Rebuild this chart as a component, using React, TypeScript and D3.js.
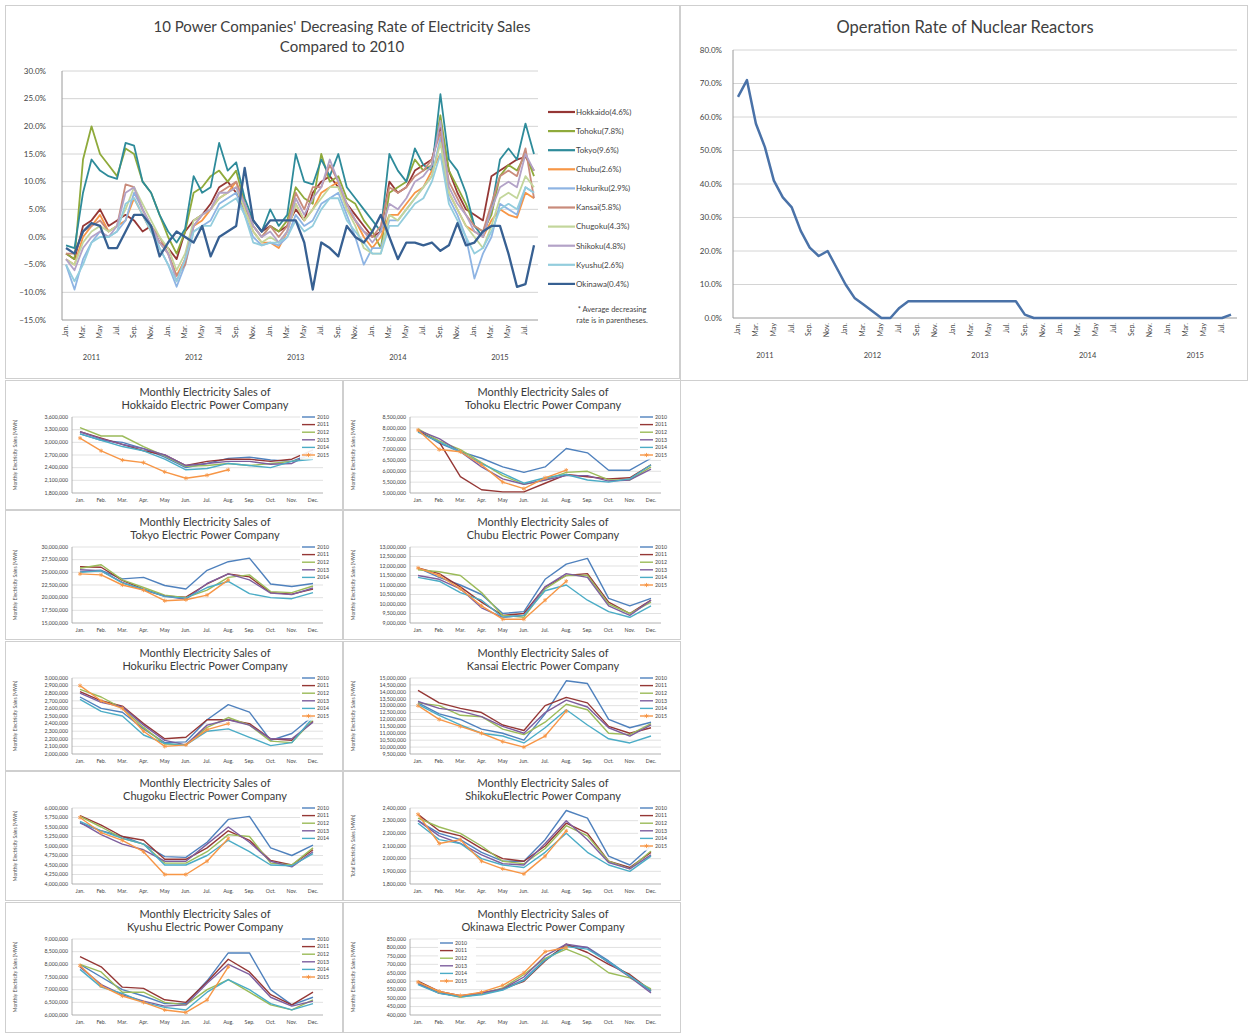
import React from 'react';
import * as d3 from 'd3';

const FONT = 'Lato, "Open Sans", "Liberation Sans", sans-serif';

// ---------- shared categories ----------
const monthShort = ['Jan.', 'Feb.', 'Mar.', 'Apr.', 'May', 'Jun.', 'Jul.', 'Aug.', 'Sep.', 'Oct.', 'Nov.', 'Dec.'];
const rateYears = ['2011', '2012', '2013', '2014', '2015'];
const rateMonths = rateYears.flatMap(y => monthShort.map(m => `${m} ${y}`)).slice(0, 56);

// ---------- decreasing rate vs 2010 (%) ----------
const rateTicks = [-15, -10, -5, 0, 5, 10, 15, 20, 25, 30];
const companyNames = ['Hokkaido(4.6%)', 'Tohoku(7.8%)', 'Tokyo(9.6%)', 'Chubu(2.6%)', 'Hokuriku(2.9%)', 'Kansai(5.8%)', 'Chugoku(4.3%)', 'Shikoku(4.8%)', 'Kyushu(2.6%)', 'Okinawa(0.4%)'];
const companyColors = ['#953735', '#8FAA3B', '#2E8B9A', '#F79646', '#8EB4E3', '#C98B7B', '#C3D69B', '#B3A2C7', '#93CDDD', '#376092'];

const hokkaidoRate = [
  -3, -4, 2, 3, 5, 2, 3, 4, 3, 1, 2, -1,
  -2, -4, 1, 3, 4, 6, 9, 10, 8, 5, 3, 1,
  2, 1, 2, 5, 3, 8, 10, 11, 9, 6, 4, 2,
  0, 1, 10, 8, 9, 12, 13, 14, 20, 12, 8, 5,
  4, 3, 11, 12, 13, 14, 14.5, 12,
];
const tohokuRate = [
  -3, -4, 14, 20, 15, 13, 11, 16, 15, 10, 8, 4,
  0, -3, 1, 8, 9, 11, 12, 10, 12, 6, 2, 0,
  2, 1, 3, 9, 7, 6, 15, 10, 11, 7, 6, 3,
  1, -2, 8, 9, 10, 14, 12, 13, 22, 12, 9, 6,
  2, 1, 4, 11, 13, 12, 15, 11,
];
const tokyoRate = [
  -1.5, -2, 8, 14, 12, 11, 10.5, 17, 16.5, 10, 8, 4,
  1, -1, 1.5, 11, 8, 9, 17, 12, 13.5, 7, 3, 1,
  5, 2, 4, 15, 10, 9.5, 14, 11, 15, 9, 7, 5,
  3, 1, 15, 12, 10, 16, 13, 12, 25.8, 14, 12, 8,
  2, 0, 5, 14, 16, 14, 20.5, 15,
];
const chubuRate = [
  -4, -5, 0, 2, 4, 1, 2, 3, 7, 4, 1, -1,
  -3, -7, -4, 2, 3, 5, 7, 8, 10, 5, 1, -1,
  -1, -2, 1, 6, 3, 5, 8, 9, 10, 5, 3, 0,
  -2, 0, 4, 4, 6, 8, 9, 12, 15, 8, 5, 2,
  1, 0, 3, 5, 4, 3.5, 8, 7,
];
const hokurikuRate = [
  -5, -9.5, -4, -1, 1, 0, 1, 3, 8, 5, 2, -2,
  -5, -9, -5, 1, 2, 3, 6, 7, 8, 4, 0, -1.5,
  -1, -1.5, 0, 4, 2, 3, 6, 7, 8, 4, 0, -5,
  -2, -2, 3, 3, 5, 7, 9, 11, 18, 7, 4, 0,
  -7.5, -3, 0, 6, 5, 4, 9, 8,
];
const kansaiRate = [
  -3, -3, 1, 2, 3, 1, 2, 9.5, 9, 5, 2, 0,
  -3, -7, -5, 2, 4, 5, 8, 9, 10, 6, 2, 0,
  2, 0, 2, 8, 5, 9, 9, 13, 10, 6, 3, 1,
  0, 2, 9, 8, 9, 11, 12, 14, 19, 10, 7, 4,
  2, 1, 6, 11, 12, 11, 16, 7,
];
const chugokuRate = [
  -4, -5, -1, 1, 2, 1, 2, 5, 9, 6, 3, 0,
  -2, -6, -3, 3, 4, 5, 7, 8, 9, 5, 1, -1,
  0, -1, 1, 6, 3, 5, 7, 9, 9, 5, 2, -2,
  -3, -3, 4, 3, 5, 7, 9, 11, 17, 8, 5, 2,
  0, -2, 2, 7, 8, 7, 11, 9,
];
const shikokuRate = [
  -4, -6, -2, 0, 1, 0, 2, 8, 9, 5, 2, -1,
  -3, -8, -4, 2, 4, 5, 8, 8, 9, 6, 2, 0,
  1, -1, 1, 7, 4, 7, 9, 14, 10, 6, 3, 1,
  -1, 1, 6, 5, 7, 10, 11, 13, 21, 9, 6, 4,
  1, 0, 5, 9, 10, 9, 15, 12,
];
const kyushuRate = [
  -5, -8, -5, -1, 0, 0, 1, 6, 7, 4, 1, -2,
  -5, -8, -4, 1, 2, 2, 5, 6, 7, 4, -1, -1.5,
  -1, -1, 0, 3, 1, 2, 5, 7, 7, 3, 1, -1,
  -3, -3, 2, 2, 4, 6, 7, 10, 15, 6, 3, 0,
  -3, -2, 1, 5, 6, 5, 9, 8,
];
const okinawaRate = [
  -2, -3, 1, 2.5, 2, -2, -2, 1, 4, 4, 2, -3.5,
  -1, 1, 0, -1, 2, -3.5, 0, 1, 2, 12.5, 3, 1,
  3, 3, 3, 3, -1, -9.5, -1, -2, -3.5, 2, 0, -1,
  1, 4, 0, -4, -1, -1, -1.5, -1, -2.5, -1.5, 2.5, -1.5,
  -1, 1, 2, 2, -3, -9, -8.5, -1.5,
];
const rateSeries = [hokkaidoRate, tohokuRate, tokyoRate, chubuRate, hokurikuRate, kansaiRate, chugokuRate, shikokuRate, kyushuRate, okinawaRate];

// ---------- nuclear operation rate (%) ----------
const nuclearTicks = [0, 10, 20, 30, 40, 50, 60, 70, 80];
const nuclearRate = [
  66, 71, 58, 51, 41, 36, 33, 26, 21, 18.5, 20, 15,
  10, 6, 4, 2, 0, 0, 3, 5, 5, 5, 5, 5,
  5, 5, 5, 5, 5, 5, 5, 5, 1, 0, 0, 0,
  0, 0, 0, 0, 0, 0, 0, 0, 0, 0, 0, 0,
  0, 0, 0, 0, 0, 0, 0, 1,
];

// ---------- monthly sales (million MWh), rows = 2010..2015 ----------
const salesYears = ['2010', '2011', '2012', '2013', '2014', '2015'];
const yearColors = ['#4F81BD', '#953735', '#9BBB59', '#7D5E9E', '#4BACC6', '#F79646'];

const hokkaidoTicks = [1.8, 2.1, 2.4, 2.7, 3.0, 3.3, 3.6];
const hokkaidoSales = [
  [3.20, 3.05, 3.00, 2.85, 2.65, 2.40, 2.50, 2.62, 2.65, 2.58, 2.55, 2.75],
  [3.25, 3.10, 2.95, 2.80, 2.70, 2.45, 2.55, 2.60, 2.60, 2.55, 2.60, 2.82],
  [3.35, 3.15, 3.15, 2.90, 2.68, 2.43, 2.45, 2.50, 2.45, 2.50, 2.55, 2.65],
  [3.25, 3.08, 2.95, 2.85, 2.70, 2.45, 2.50, 2.55, 2.55, 2.48, 2.50, 2.75],
  [3.20, 3.05, 2.90, 2.80, 2.60, 2.35, 2.38, 2.50, 2.45, 2.40, 2.55, 2.60],
  [3.10, 2.80, 2.58, 2.52, 2.30, 2.15, 2.22, 2.35],
];
const tohokuTicks = [5.0, 5.5, 6.0, 6.5, 7.0, 7.5, 8.0, 8.5];
const tohokuSales = [
  [7.90, 7.30, 6.90, 6.60, 6.20, 5.95, 6.20, 7.05, 6.85, 6.05, 6.05, 6.60],
  [7.85, 7.35, 5.75, 5.15, 5.05, 5.05, 5.45, 5.85, 5.75, 5.65, 5.70, 6.30],
  [7.95, 7.40, 7.00, 6.40, 5.80, 5.40, 5.60, 5.95, 6.00, 5.60, 5.60, 6.20],
  [7.90, 7.50, 6.90, 6.20, 5.65, 5.40, 5.60, 5.80, 5.80, 5.55, 5.60, 6.10],
  [7.80, 7.35, 6.90, 6.35, 5.90, 5.45, 5.70, 5.85, 5.60, 5.50, 5.65, 6.30],
  [7.90, 7.00, 6.90, 6.30, 5.50, 5.20, 5.70, 6.05],
];
const tokyoTicks = [15, 17.5, 20, 22.5, 25, 27.5, 30];
const tokyoSales = [
  [25.1, 25.4, 23.7, 24.0, 22.4, 21.7, 25.4, 27.1, 27.8, 22.7, 22.2, 22.8],
  [26.1, 26.0, 23.4, 21.7, 20.3, 20.1, 22.7, 24.7, 24.1, 21.0, 20.7, 21.7],
  [25.8, 26.5, 23.5, 22.0, 20.5, 20.0, 21.5, 24.0, 24.5, 21.2, 21.0, 22.3],
  [25.5, 25.3, 23.0, 21.5, 20.3, 19.7, 22.8, 24.7, 23.5, 20.9, 20.6, 21.9],
  [25.0, 25.3, 22.9, 21.7, 20.2, 19.9, 22.0, 23.2, 20.8, 20.0, 19.8, 21.0],
  [24.7, 24.5, 22.5, 21.5, 19.4, 19.6, 20.5, 23.5],
];
const chubuTicks = [9.0, 9.5, 10.0, 10.5, 11.0, 11.5, 12.0, 12.5, 13.0];
const chubuSales = [
  [11.9, 11.4, 11.0, 10.5, 9.5, 9.6, 11.3, 12.1, 12.4, 10.3, 9.9, 10.3],
  [11.9, 11.6, 10.9, 10.1, 9.4, 9.5, 10.9, 11.5, 11.6, 10.1, 9.5, 10.2],
  [11.8, 11.7, 11.5, 10.6, 9.4, 9.3, 10.8, 11.5, 11.5, 10.0, 9.5, 10.1],
  [11.5, 11.3, 10.8, 9.8, 9.3, 9.4, 10.9, 11.6, 11.4, 9.9, 9.4, 10.2],
  [11.4, 11.2, 10.6, 10.2, 9.3, 9.4, 10.7, 11.0, 10.2, 9.6, 9.3, 9.9],
  [11.9, 11.5, 10.8, 9.9, 9.2, 9.2, 10.2, 11.2],
];
const hokurikuTicks = [2.0, 2.1, 2.2, 2.3, 2.4, 2.5, 2.6, 2.7, 2.8, 2.9, 3.0];
const hokurikuSales = [
  [2.75, 2.60, 2.55, 2.33, 2.15, 2.16, 2.45, 2.65, 2.55, 2.18, 2.27, 2.50],
  [2.82, 2.70, 2.63, 2.40, 2.20, 2.22, 2.45, 2.45, 2.40, 2.20, 2.18, 2.43],
  [2.85, 2.75, 2.60, 2.35, 2.13, 2.12, 2.35, 2.48, 2.38, 2.17, 2.15, 2.45],
  [2.80, 2.68, 2.62, 2.38, 2.18, 2.12, 2.38, 2.45, 2.38, 2.20, 2.20, 2.42],
  [2.72, 2.56, 2.50, 2.25, 2.14, 2.12, 2.30, 2.33, 2.22, 2.11, 2.15, 2.48],
  [2.90, 2.70, 2.60, 2.30, 2.10, 2.12, 2.32, 2.40],
];
const kansaiTicks = [9.5, 10.0, 10.5, 11.0, 11.5, 12.0, 12.5, 13.0, 13.5, 14.0, 14.5, 15.0];
const kansaiSales = [
  [13.2, 12.4, 12.0, 11.3, 11.0, 10.5, 12.4, 14.8, 14.6, 12.0, 11.4, 11.8],
  [14.1, 13.2, 12.8, 12.5, 11.6, 11.2, 13.0, 13.6, 13.2, 11.5, 11.0, 11.4],
  [13.2, 13.0, 12.3, 12.2, 11.3, 10.9, 11.8, 13.1, 12.7, 11.0, 10.9, 11.7],
  [13.3, 12.8, 12.6, 12.2, 11.5, 11.0, 12.5, 13.4, 12.9, 11.4, 10.8, 11.6],
  [13.1, 12.3, 11.6, 11.0, 10.8, 10.3, 11.4, 12.7, 11.6, 10.6, 10.3, 10.8],
  [13.0, 12.0, 11.5, 11.0, 10.4, 10.0, 10.8, 12.6],
];
const chugokuTicks = [4.0, 4.25, 4.5, 4.75, 5.0, 5.25, 5.5, 5.75, 6.0];
const chugokuSales = [
  [5.60, 5.40, 5.25, 5.05, 4.72, 4.70, 5.10, 5.70, 5.78, 4.95, 4.75, 5.02],
  [5.80, 5.55, 5.25, 5.15, 4.65, 4.65, 4.95, 5.40, 5.15, 4.62, 4.50, 4.90],
  [5.78, 5.50, 5.20, 5.05, 4.55, 4.55, 4.85, 5.30, 5.25, 4.55, 4.50, 4.95],
  [5.62, 5.30, 5.05, 4.90, 4.60, 4.60, 5.05, 5.50, 5.10, 4.60, 4.45, 4.85],
  [5.65, 5.40, 5.20, 5.05, 4.50, 4.50, 4.75, 5.15, 4.85, 4.50, 4.48, 4.80],
  [5.75, 5.35, 5.15, 4.85, 4.25, 4.25, 4.60, 5.20],
];
const shikokuTicks = [1.8, 1.9, 2.0, 2.1, 2.2, 2.3, 2.4];
const shikokuSales = [
  [2.30, 2.20, 2.15, 2.05, 1.98, 1.98, 2.15, 2.38, 2.32, 2.02, 1.95, 2.10],
  [2.35, 2.22, 2.18, 2.08, 2.00, 1.98, 2.10, 2.28, 2.20, 1.98, 1.93, 2.05],
  [2.32, 2.25, 2.20, 2.10, 1.98, 1.96, 2.08, 2.26, 2.18, 1.98, 1.92, 2.06],
  [2.30, 2.18, 2.12, 2.03, 1.96, 1.95, 2.12, 2.30, 2.15, 1.97, 1.92, 2.03],
  [2.28, 2.15, 2.12, 2.00, 1.95, 1.93, 2.05, 2.20, 2.05, 1.95, 1.90, 2.02],
  [2.35, 2.12, 2.15, 1.98, 1.92, 1.88, 2.02, 2.22],
];
const kyushuTicks = [6.0, 6.5, 7.0, 7.5, 8.0, 8.5, 9.0];
const kyushuSales = [
  [8.00, 7.50, 7.00, 6.75, 6.45, 6.45, 7.35, 8.45, 8.45, 7.00, 6.40, 6.70],
  [8.30, 7.90, 7.10, 7.05, 6.60, 6.50, 7.30, 8.20, 7.70, 6.80, 6.40, 6.90],
  [8.00, 7.70, 6.90, 6.90, 6.50, 6.40, 7.00, 7.40, 6.90, 6.40, 6.20, 6.60],
  [7.90, 7.20, 6.80, 6.55, 6.35, 6.40, 7.25, 8.00, 7.60, 6.70, 6.35, 6.55],
  [7.80, 7.10, 6.85, 6.50, 6.30, 6.20, 6.90, 7.40, 7.00, 6.45, 6.20, 6.45],
  [7.95, 7.15, 6.75, 6.50, 6.20, 6.10, 6.60, 7.90],
];
const okinawaTicks = [0.40, 0.45, 0.50, 0.55, 0.60, 0.65, 0.70, 0.75, 0.80, 0.85];
const okinawaSales = [
  [0.590, 0.530, 0.510, 0.525, 0.550, 0.610, 0.730, 0.810, 0.800, 0.720, 0.630, 0.540],
  [0.600, 0.540, 0.515, 0.530, 0.555, 0.600, 0.720, 0.820, 0.770, 0.700, 0.640, 0.545],
  [0.595, 0.535, 0.505, 0.525, 0.560, 0.640, 0.735, 0.790, 0.740, 0.650, 0.620, 0.555],
  [0.585, 0.530, 0.510, 0.530, 0.555, 0.625, 0.750, 0.820, 0.800, 0.710, 0.625, 0.530],
  [0.580, 0.528, 0.508, 0.520, 0.548, 0.605, 0.725, 0.805, 0.790, 0.715, 0.630, 0.545],
  [0.595, 0.540, 0.515, 0.535, 0.575, 0.650, 0.775, 0.800],
];

const smallCharts = [
  { title1: 'Monthly Electricity Sales of', title2: 'Hokkaido Electric Power Company', ticks: hokkaidoTicks, sales: hokkaidoSales, legend: 6, ylabel: 'Monthly Electricity Sales (MWh)' },
  { title1: 'Monthly Electricity Sales of', title2: 'Tohoku Electric Power Company', ticks: tohokuTicks, sales: tohokuSales, legend: 6, ylabel: 'Monthly Electricity Sales (MWh)' },
  { title1: 'Monthly Electricity Sales of', title2: 'Tokyo Electric Power Company', ticks: tokyoTicks, sales: tokyoSales, legend: 5, ylabel: 'Monthly Electricity Sales (MWh)' },
  { title1: 'Monthly Electricity Sales of', title2: 'Chubu Electric Power Company', ticks: chubuTicks, sales: chubuSales, legend: 6, ylabel: 'Monthly Electricity Sales (MWh)' },
  { title1: 'Monthly Electricity Sales of', title2: 'Hokuriku Electric Power Company', ticks: hokurikuTicks, sales: hokurikuSales, legend: 6, ylabel: 'Monthly Electricity Sales (MWh)' },
  { title1: 'Monthly  Electricity Sales of', title2: 'Kansai Electric Power Company', ticks: kansaiTicks, sales: kansaiSales, legend: 6, ylabel: 'Monthly Electricity Sales (MWh)' },
  { title1: 'Monthly Electricity Sales of', title2: 'Chugoku Electric Power Company', ticks: chugokuTicks, sales: chugokuSales, legend: 5, ylabel: 'Monthly Electricity Sales (MWh)' },
  { title1: 'Monthly Electricity Sales of', title2: 'ShikokuElectric Power Company', ticks: shikokuTicks, sales: shikokuSales, legend: 6, ylabel: 'Total Electricity Sales (MWh)' },
  { title1: 'Monthly Electricity Sales of', title2: 'Kyushu Electric Power Company', ticks: kyushuTicks, sales: kyushuSales, legend: 6, ylabel: 'Monthly Electricity Sales (MWh)' },
  { title1: 'Monthly Electricity Sales of', title2: 'Okinawa Electric Power Company', ticks: okinawaTicks, sales: okinawaSales, legend: 6, ylabel: 'Monthly Electricity Sales (MWh)', legendLeft: true },
];

const pct = d3.format('.1f');
const comma = d3.format(',');

function MainChart() {
  const x = d3.scalePoint<number>().domain(d3.range(rateMonths.length)).range([66, 534]);
  const y = d3.scaleLinear().domain([-15, 30]).range([320, 71]);
  const line = d3.line<number>().x((_, i) => x(i)!).y(d => y(d));
  return (
    <g fontFamily={FONT}>
      <text x={342} y={32} textAnchor="middle" fontSize={15} fill="#404040">10 Power Companies' Decreasing Rate of Electricity Sales</text>
      <text x={342} y={52} textAnchor="middle" fontSize={15} fill="#404040">Compared to 2010</text>
      {rateTicks.map(t => (
        <g key={t}>
          <line x1={62} x2={538} y1={y(t)} y2={y(t)} stroke={t === -15 ? '#9a9a9a' : '#d4d4d4'} strokeWidth={1} />
          <text x={46} y={y(t)} dy="0.35em" textAnchor="end" fontSize={8} fill="#444">{pct(t)}%</text>
        </g>
      ))}
      <line x1={62} x2={62} y1={71} y2={320} stroke="#9a9a9a" />
      {rateMonths.map((m, i) => i % 2 === 0 ? (
        <text key={m} transform={`translate(${x(i)},325) rotate(-90)`} textAnchor="end" dominantBaseline="middle" fontSize={7} fill="#444">{m.split(' ')[0]}</text>
      ) : null)}
      {rateYears.map((yr, k) => (
        <text key={yr} x={x(k * 12 + 3)!} y={360} textAnchor="middle" fontSize={7.5} fill="#444">{yr}</text>
      ))}
      {rateSeries.map((s, k) => (
        <path key={k} d={line(s)!} fill="none" stroke={companyColors[k]} strokeWidth={k === 9 ? 2.3 : 1.8} strokeLinejoin="round" />
      ))}
      {companyNames.map((n, k) => {
        const ly = 112 + k * 19.1;
        return (
          <g key={n}>
            <line x1={548} x2={575} y1={ly} y2={ly} stroke={companyColors[k]} strokeWidth={2.2} />
            <text x={576} y={ly} dy="0.35em" fontSize={8} fill="#444">{n}</text>
          </g>
        );
      })}
      <text x={612} y={312} textAnchor="middle" fontSize={7.5} fill="#444">* Average decreasing</text>
      <text x={612} y={323} textAnchor="middle" fontSize={7.5} fill="#444">rate is in parentheses.</text>
    </g>
  );
}

function NuclearChart() {
  const x = d3.scalePoint<number>().domain(d3.range(nuclearRate.length)).range([738, 1231]);
  const y = d3.scaleLinear().domain([0, 80]).range([318, 50]);
  const line = d3.line<number>().x((_, i) => x(i)!).y(d => y(d));
  return (
    <g fontFamily={FONT}>
      <text x={965} y={33} textAnchor="middle" fontSize={16.5} fill="#404040">Operation Rate of Nuclear Reactors</text>
      {nuclearTicks.map(t => (
        <g key={t}>
          <line x1={733} x2={1237} y1={y(t)} y2={y(t)} stroke={t === 0 ? '#9a9a9a' : '#d4d4d4'} />
          <text x={722} y={y(t)} dy="0.35em" textAnchor="end" fontSize={8} fill="#444">{pct(t)}%</text>
        </g>
      ))}
      <line x1={733} x2={733} y1={50} y2={318} stroke="#9a9a9a" />
      {rateMonths.map((m, i) => i % 2 === 0 ? (
        <text key={m} transform={`translate(${x(i)},323) rotate(-90)`} textAnchor="end" dominantBaseline="middle" fontSize={7} fill="#444">{m.split(' ')[0]}</text>
      ) : null)}
      {rateYears.map((yr, k) => (
        <text key={yr} x={x(k * 12 + 3)!} y={358} textAnchor="middle" fontSize={7.5} fill="#444">{yr}</text>
      ))}
      <path d={line(nuclearRate)!} fill="none" stroke="#4A72A8" strokeWidth={2.5} strokeLinejoin="round" />
    </g>
  );
}

type SmallProps = { x0: number; y0: number; cfg: typeof smallCharts[number] };

function SmallChart({ x0, y0, cfg }: SmallProps) {
  const { ticks, sales } = cfg;
  const x = d3.scalePoint<string>().domain(monthShort).range([x0 + 75, x0 + 308]);
  const y = d3.scaleLinear().domain([ticks[0], ticks[ticks.length - 1]]).range([y0 + 113, y0 + 37]);
  const line = d3.line<number>().x((_, i) => x(monthShort[i])!).y(d => y(d));
  const star = d3.symbol().type(d3.symbolAsterisk).size(12)()!;
  const lx = cfg.legendLeft ? x0 + 97 : x0 + 297;
  const ly = cfg.legendLeft ? y0 + 41 : y0 + 37;
  const n = cfg.legend;
  return (
    <g fontFamily={FONT}>
      <text x={x0 + 200} y={y0 + 16} textAnchor="middle" fontSize={11} fill="#3a3a3a">{cfg.title1}</text>
      <text x={x0 + 200} y={y0 + 29} textAnchor="middle" fontSize={11} fill="#3a3a3a">{cfg.title2}</text>
      <text transform={`translate(${x0 + 12},${y0 + 75}) rotate(-90)`} textAnchor="middle" fontSize={5} fill="#555">{cfg.ylabel}</text>
      {ticks.map(t => (
        <g key={t}>
          <line x1={x0 + 67} x2={x0 + 318} y1={y(t)} y2={y(t)} stroke={t === ticks[0] ? '#a0a0a0' : '#d9d9d9'} strokeWidth={0.8} />
          <text x={x0 + 63} y={y(t)} dy="0.35em" textAnchor="end" fontSize={5.2} fill="#444">{comma(Math.round(t * 1e6))}</text>
        </g>
      ))}
      <line x1={x0 + 67} x2={x0 + 67} y1={y0 + 37} y2={y0 + 113} stroke="#a0a0a0" strokeWidth={0.8} />
      {monthShort.map(m => (
        <text key={m} x={x(m)!} y={y0 + 122} textAnchor="middle" fontSize={5.2} fill="#444">{m}</text>
      ))}
      {sales.map((s, k) => (
        <path key={k} d={line(s)!} fill="none" stroke={yearColors[k]} strokeWidth={1.4} strokeLinejoin="round" />
      ))}
      {sales[5].map((v, i) => (
        <path key={i} d={star} transform={`translate(${x(monthShort[i])},${y(v)})`} fill="none" stroke={yearColors[5]} strokeWidth={0.9} />
      ))}
      <rect x={lx - 2} y={ly - 4} width={38} height={n * 7.6 + 1} fill="#fff" opacity={0.9} />
      {salesYears.slice(0, n).map((yr, k) => (
        <g key={yr}>
          <line x1={lx} x2={lx + 13} y1={ly + k * 7.6} y2={ly + k * 7.6} stroke={yearColors[k]} strokeWidth={1.4} />
          {k === 5 ? <path d={star} transform={`translate(${lx + 6.5},${ly + k * 7.6})`} fill="none" stroke={yearColors[5]} strokeWidth={0.9} /> : null}
          <text x={lx + 15} y={ly + k * 7.6} dy="0.35em" fontSize={5.2} fill="#444">{yr}</text>
        </g>
      ))}
    </g>
  );
}

export default function App() {
  const cols = [5, 343];
  const rows = [380, 510, 641, 771, 902];
  return (
    <div style={{ position: 'absolute', left: 0, top: 0 }}>
      <svg width={1249} height={1033} style={{ display: 'block', background: '#fff' }}>
        <rect x={0} y={0} width={1249} height={1033} fill="#fff" />
        <rect x={5.5} y={5.5} width={674} height={373} fill="none" stroke="#cfcfcf" />
        <rect x={680.5} y={5.5} width={567} height={375} fill="none" stroke="#cfcfcf" />
        {rows.map(ry => cols.map(cx => (
          <rect key={`${cx}-${ry}`} x={cx + 0.5} y={ry + 0.5} width={337} height={ry === 902 ? 130 : 129} fill="none" stroke="#cfcfcf" />
        )))}
        <MainChart />
        <NuclearChart />
        {smallCharts.map((cfg, i) => (
          <SmallChart key={i} x0={cols[i % 2]} y0={rows[Math.floor(i / 2)]} cfg={cfg} />
        ))}
      </svg>
    </div>
  );
}
